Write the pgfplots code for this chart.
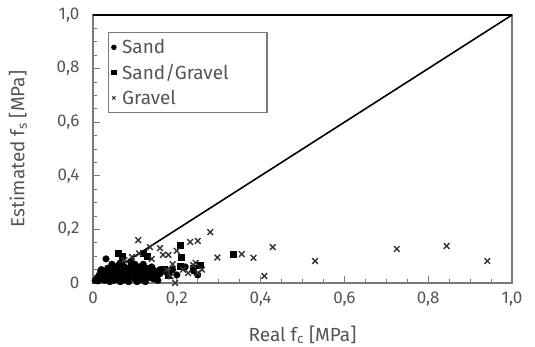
\documentclass[border=0pt]{standalone}
\usepackage{pgfplots}
\pgfplotsset{compat=1.18}
\usepackage{fontspec}
\setmainfont{Fira Sans}
\definecolor{txt}{HTML}{555555}
\definecolor{axg}{HTML}{7A7A7A}
\begin{document}
\begin{tikzpicture}
\begin{axis}[
  scale only axis,
  width=419pt, height=268pt,
  xmin=0, xmax=1, ymin=0, ymax=1,
  xtick={0,0.2,0.4,0.6,0.8,1},
  ytick={0,0.2,0.4,0.6,0.8,1},
  xticklabels={0,{0,2},{0,4},{0,6},{0,8},{1,0}},
  yticklabels={0,{0,2},{0,4},{0,6},{0,8},{1,0}},
  minor tick num=3,
  tick align=inside,
  xtick pos=bottom, ytick pos=left,
  major tick length=7pt, minor tick length=4pt,
  every tick/.style={axg, line width=1pt},
  axis line style={axg, line width=1.5pt},
  tick label style={font=\fontsize{17}{20}\selectfont, text=txt},
  xticklabel style={yshift=-5pt},
  yticklabel style={xshift=-10pt},
  xlabel={Real f\textsubscript{c} [MPa]},
  ylabel={Estimated f\textsubscript{s} [MPa]},
  every axis x label/.style={at={(axis description cs:0.5,0)}, anchor=center, yshift=-52pt,
     font=\fontsize{19}{22}\selectfont, text=txt},
  every axis y label/.style={at={(axis description cs:0,0.5)}, anchor=center, rotate=90, yshift=75pt,
     font=\fontsize{19}{22}\selectfont, text=txt},
  legend style={at={(axis cs:0.036,0.937)}, anchor=north west, draw=axg, line width=1.2pt,
    font=\fontsize{19}{22}\selectfont, text=txt, inner xsep=3pt, inner ysep=5pt,
    row sep=5pt, text width=140pt,
    /tikz/every odd column/.append style={column sep=4pt}},
  legend image code/.code={\draw[mark repeat=2,mark phase=2,#1, mark size=2.2pt, line width=1pt]
     plot coordinates {(0cm,0cm)(0.15cm,0cm)(0.3cm,0cm)};},
  legend cell align=left,
  clip=false,
]
% Sand
\addplot[only marks, mark=*, mark size=3.3pt, black] coordinates {
(0.005,0.01)(0.01,0.02)(0.012,0.008)(0.015,0.03)(0.02,0.015)(0.022,0.035)(0.025,0.025)
(0.028,0.01)(0.03,0.04)(0.031,0.09)(0.033,0.02)(0.036,0.032)(0.04,0.015)(0.042,0.045)
(0.045,0.028)(0.048,0.038)(0.05,0.01)(0.052,0.05)(0.055,0.022)(0.058,0.035)(0.06,0.045)
(0.062,0.015)(0.065,0.03)(0.068,0.055)(0.07,0.04)(0.072,0.02)(0.075,0.06)(0.078,0.03)
(0.08,0.048)(0.082,0.012)(0.085,0.038)(0.088,0.058)(0.09,0.025)(0.092,0.045)(0.095,0.035)
(0.098,0.065)(0.1,0.015)(0.102,0.05)(0.105,0.03)(0.108,0.042)(0.11,0.06)(0.112,0.022)
(0.115,0.035)(0.118,0.05)(0.12,0.012)(0.122,0.04)(0.125,0.028)(0.128,0.055)(0.13,0.035)
(0.133,0.045)(0.136,0.02)(0.14,0.038)(0.143,0.05)(0.146,0.03)(0.15,0.04)(0.153,0.025)
(0.156,0.045)(0.16,0.035)(0.045,0.07)(0.09,0.08)(0.065,0.075)(0.12,0.07)
(0.175,0.04)(0.19,0.05)(0.2,0.03)(0.22,0.06)(0.24,0.045)(0.25,0.03)
(0.018,0.045)(0.035,0.055)(0.055,0.06)(0.075,0.045)(0.095,0.05)(0.115,0.045)(0.135,0.03)
(0.145,0.015)(0.155,0.01)(0.085,0.005)(0.065,0.005)(0.04,0.005)(0.105,0.005)(0.125,0.005)
(0.02,0.05)(0.06,0.065)(0.1,0.07)(0.14,0.06)(0.16,0.05)(0.07,0.01)(0.11,0.01)
};
\addlegendentry{Sand}
% Sand/Gravel
\addplot[only marks, mark=square*, mark size=3pt, black] coordinates {
(0.06,0.11)(0.07,0.10)(0.12,0.11)(0.13,0.10)(0.208,0.14)(0.21,0.097)(0.208,0.063)
(0.255,0.066)(0.335,0.108)(0.24,0.055)(0.05,0.04)(0.09,0.06)(0.1,0.05)(0.15,0.04)
(0.17,0.05)(0.025,0.03)(0.11,0.03)(0.14,0.055)(0.18,0.03)
};
\addlegendentry{Sand/Gravel}
% Gravel
\addplot[only marks, mark=x, mark size=4pt, line width=1.4pt, black!80] coordinates {
(0.108,0.16)(0.28,0.19)(0.232,0.153)(0.25,0.157)(0.297,0.095)(0.355,0.108)(0.383,0.094)
(0.429,0.134)(0.53,0.082)(0.409,0.026)(0.725,0.127)(0.844,0.138)(0.941,0.082)
(0.136,0.134)(0.167,0.105)(0.18,0.105)(0.176,0.049)(0.196,0.0)(0.227,0.037)(0.239,0.067)
(0.25,0.037)(0.16,0.13)(0.093,0.097)(0.11,0.11)(0.19,0.07)(0.185,0.025)(0.215,0.05)
(0.26,0.05)(0.245,0.075)(0.075,0.085)(0.14,0.09)(0.2,0.12)
};
\addlegendentry{Gravel}
% identity line
\addplot[black, line width=1.6pt, forget plot] coordinates {(0,0)(1,1)};
\draw[black, line width=2pt] (axis cs:0,1) -- (axis cs:1,1);
\end{axis}
\pgfresetboundingbox
\path ([shift={(-93pt,-63pt)}]current axis.south west) rectangle ([shift={(23pt,15pt)}]current axis.north east);
\end{tikzpicture}
\end{document}
